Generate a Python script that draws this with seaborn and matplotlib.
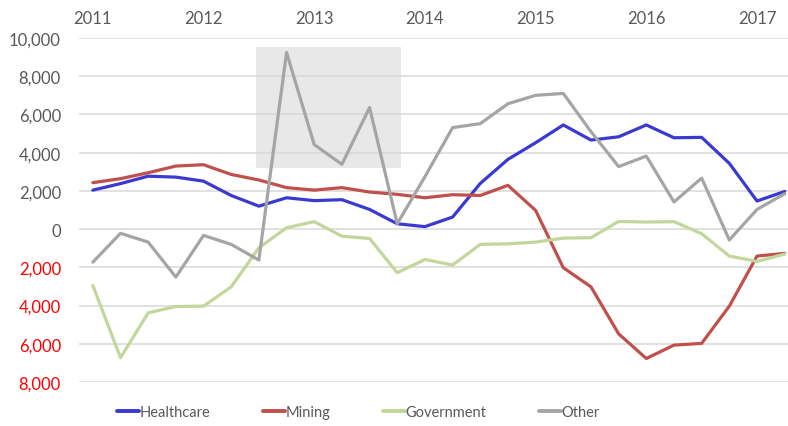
import matplotlib
matplotlib.use("Agg")
import matplotlib.pyplot as plt
import matplotlib.patches as mpatches
import seaborn as sns
import pandas as pd

# Daten (quartalsweise, 2011 Q1 bis 2017 Q2)
quartal = list(range(26))
jahre = ["2011", "2012", "2013", "2014", "2015", "2016", "2017"]

healthcare = [2040, 2380, 2770, 2720, 2510, 1760, 1200, 1640, 1490, 1540,
              1030, 280, 130, 630, 2390, 3650, 4520, 5450, 4660, 4830,
              5450, 4780, 4800, 3440, 1470, 1970]
mining = [2430, 2640, 2950, 3300, 3370, 2860, 2570, 2170, 2040, 2170,
          1940, 1820, 1640, 1800, 1760, 2290, 980, -2020, -3020, -5480,
          -6770, -6070, -5980, -4030, -1410, -1270]
government = [-2950, -6730, -4380, -4050, -4030, -3020, -980, 70, 390, -370,
              -490, -2280, -1590, -1880, -800, -770, -680, -470, -450, 400,
              370, 390, -240, -1410, -1690, -1310]
other = [-1730, -220, -680, -2510, -330, -800, -1620, 9240, 4420, 3390,
         6360, 280, 2740, 5310, 5520, 6560, 7000, 7100, 5100, 3270,
         3820, 1420, 2670, -570, 1030, 1850]

df = pd.DataFrame({
    "quartal": quartal * 4,
    "wert": healthcare + mining + government + other,
    "sektor": ["Healthcare"] * 26 + ["Mining"] * 26 + ["Government"] * 26 + ["Other"] * 26,
})

farben = {"Healthcare": "#3A3AD0", "Mining": "#C0504D",
          "Government": "#C3D69B", "Other": "#A5A5A5"}

sns.set_style("white")
plt.rcParams["font.family"] = ["Lato", "DejaVu Sans"]

fig = plt.figure(figsize=(7.88, 4.27), dpi=100)
ax = fig.add_axes([79 / 788, 1 - 383 / 427, 1 - 79 / 788, (383 - 39) / 427])

# grauer Kasten hinter den Linien
ax.add_patch(mpatches.Rectangle((5.88, 3210), 11.14 - 5.88, 9550 - 3210,
                                facecolor="#E8E8E8", edgecolor="none", zorder=0))

sns.lineplot(data=df, x="quartal", y="wert", hue="sektor", palette=farben,
             linewidth=2.3, ax=ax, legend=False, zorder=3)

ax.set_xlim(-0.5, 25.12)
ax.set_ylim(-8000, 10000)
ax.set_yticks(range(-8000, 10001, 2000))
ax.set_yticklabels([f"{abs(v):,}" for v in range(-8000, 10001, 2000)])
for lbl, v in zip(ax.get_yticklabels(), range(-8000, 10001, 2000)):
    lbl.set_color("#FF0000" if v < 0 else "#595959")
ax.yaxis.grid(True, color="#D9D9D9", linewidth=1.1, zorder=1)
ax.set_axisbelow(True)

ax.xaxis.set_ticks_position("top")
ax.set_xticks([0, 4, 8, 12, 16, 20, 24])
ax.set_xticklabels(jahre, color="#595959")
ax.tick_params(axis="x", length=0, pad=9, labelsize=12)
ax.tick_params(axis="y", length=0, pad=13, labelsize=12)
ax.set_xlabel("")
ax.set_ylabel("")
for s in ax.spines.values():
    s.set_visible(False)

handles = [plt.Line2D([], [], color=farben[k], linewidth=2.8) for k in farben]
fig.legend(handles, list(farben), loc="center", bbox_to_anchor=(0.455, 1 - 413 / 427),
           ncol=4, frameon=False, fontsize=10.5, handlelength=1.5,
           handletextpad=0.05, columnspacing=3.6, labelcolor="#595959")

fig.savefig("out.png", dpi=100)
